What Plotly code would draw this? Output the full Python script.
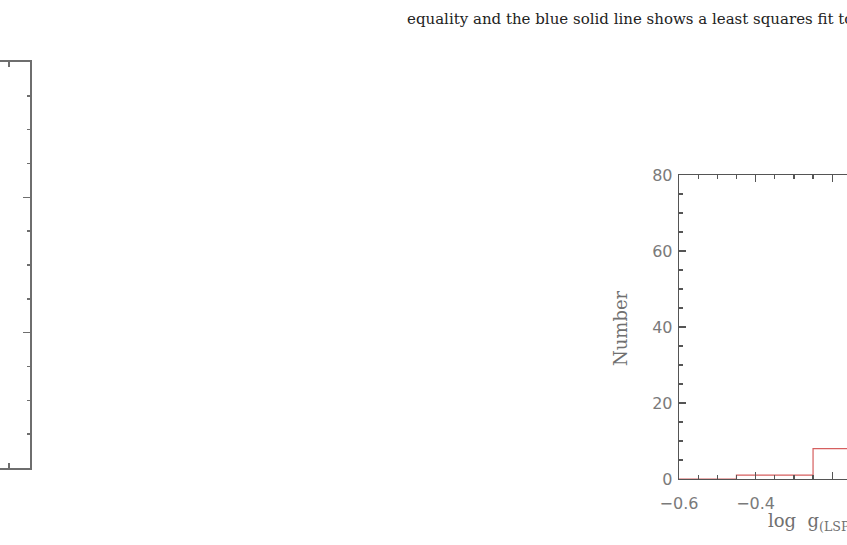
import plotly.graph_objects as go

W, H = 847, 545

# ---- data (right panel histogram, visible part) ----
bin_edges = [-0.65, -0.45, -0.25, -0.05]
counts = [0, 1, 8]

# ---- text ----
caption = "equality and the blue solid line shows a least squares fit to"
y_title = "Number"
x_title = "log  g<sub>(LSP)</sub>"
y_ticks = [0, 20, 40, 60, 80]
x_ticks = [-0.6, -0.4, -0.2]
x_ticklabels = ["\u22120.6", "\u22120.4", "\u22120.2"]


def px_x(p):
    return p / W


def px_y(p):
    return (H - p) / H


# step outline
sx = [bin_edges[0]]
sy = [0]
for i, c in enumerate(counts):
    sx += [bin_edges[i], bin_edges[i + 1]]
    sy += [c, c]
sx.append(bin_edges[-1])
sy.append(0)

fig = go.Figure()

fig.add_trace(go.Scatter(x=sx, y=sy, mode="lines",
                         line=dict(color="#d65f5f", width=1.2),
                         xaxis="x", yaxis="y", showlegend=False,
                         hoverinfo="skip"))

# invisible trace for the left (partial) panel
fig.add_trace(go.Scatter(x=[0.5], y=[1.5], mode="markers",
                         marker=dict(opacity=0), xaxis="x2", yaxis="y2",
                         showlegend=False, hoverinfo="skip"))

axis_col = "#555555"
tick_font = dict(family="DejaVu Sans", size=16, color="#7a7a7a")
left_col = "#6e6e6e"

fig.update_layout(
    width=W, height=H, autosize=False,
    margin=dict(l=0, r=0, t=0, b=0, pad=0, autoexpand=False),
    paper_bgcolor="white", plot_bgcolor="white",
    hovermode=False,
    xaxis=dict(domain=[px_x(679), 1.0], range=[-0.6, -0.6 + 168 / 383],
               automargin=False,
               showgrid=False, zeroline=False,
               showline=True, linecolor=axis_col, linewidth=1.3,
               mirror="allticks", ticks="inside", ticklen=7,
               tickcolor=axis_col, tickwidth=1.2,
               tickvals=x_ticks, ticktext=x_ticklabels,
               tickfont=tick_font, ticklabelstandoff=9,
               minor=dict(dtick=0.05, tick0=-0.6, ticks="inside", ticklen=4,
                          tickcolor=axis_col, tickwidth=1.2, showgrid=False),
               anchor="y"),
    yaxis=dict(domain=[px_y(479), px_y(175)], range=[0, 80],
               automargin=False,
               showgrid=False, zeroline=False,
               showline=True, linecolor=axis_col, linewidth=1.3,
               mirror=False, ticks="inside", ticklen=7,
               tickcolor=axis_col, tickwidth=1.2,
               tickvals=y_ticks, tickfont=tick_font, ticklabelstandoff=2,
               minor=dict(dtick=5, tick0=0, ticks="inside", ticklen=4,
                          tickcolor=axis_col, tickwidth=1.2, showgrid=False),
               anchor="x"),
    xaxis2=dict(domain=[0, px_x(30)], range=[0, 1],
                automargin=False,
                showgrid=False, zeroline=False,
                showline=True, linecolor=left_col, linewidth=1.8,
                mirror="allticks", ticks="inside", ticklen=5,
                tickcolor=left_col, tickwidth=1.5,
                tickvals=[0.3], showticklabels=False, anchor="y2"),
    yaxis2=dict(domain=[px_y(468), px_y(62)], range=[0, 3],
                automargin=False,
                showgrid=False, zeroline=False, side="right",
                showline=True, linecolor=left_col, linewidth=1.8,
                ticks="inside", ticklen=7, tickcolor=left_col, tickwidth=1.5,
                tickvals=[0, 1, 2, 3], showticklabels=False,
                minor=dict(dtick=0.25, tick0=0, ticks="inside", ticklen=3,
                           tickcolor=left_col, tickwidth=1.5, showgrid=False),
                anchor="x2"),
    annotations=[
        dict(text=caption, x=px_x(405), y=px_y(19), xref="paper", yref="paper",
             xanchor="left", yanchor="middle", showarrow=False,
             font=dict(family="DejaVu Serif", size=15, color="#222222")),
        dict(text=y_title, x=px_x(620), y=px_y(328), xref="paper", yref="paper",
             xanchor="center", yanchor="middle", showarrow=False, textangle=-90,
             font=dict(family="DejaVu Serif", size=18, color="#707070")),
        dict(text=x_title, x=px_x(766), y=px_y(522), xref="paper", yref="paper",
             xanchor="left", yanchor="middle", showarrow=False,
             font=dict(family="DejaVu Serif", size=18, color="#707070")),
    ],
)

fig.write_html("out.html",
               config={"displayModeBar": False, "staticPlot": True},
               post_script="document.body.style.margin='0';")
